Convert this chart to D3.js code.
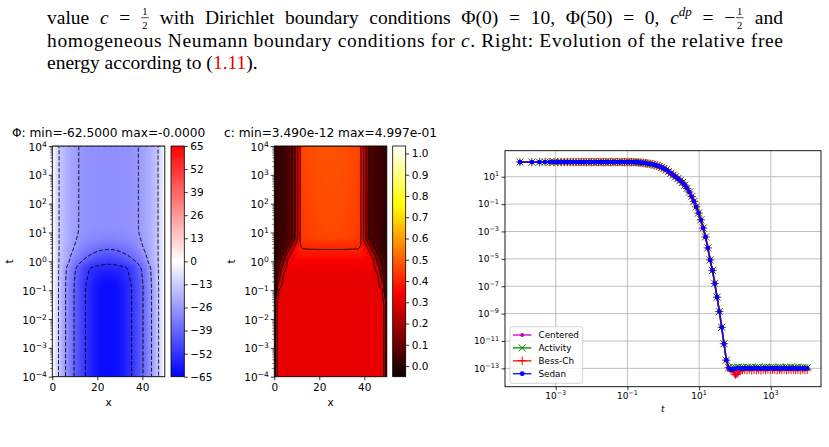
<!DOCTYPE html>
<html>
<head>
<meta charset="utf-8">
<script src="https://cdn.jsdelivr.net/npm/d3@7"></script>
<style>
  body { margin: 0; background: #fff; }
  svg { display: block; }
</style>
</head>
<body>
<script>
// ---------- potential Phi(t, x): rows = log10(t), columns = x ----------
var phiX = [0, 3, 6, 10, 12, 15, 20, 25, 30, 35, 38, 40, 44, 47, 50];
var phiLogT = [-4, -1, -0.75, -0.5, -0.25, 0, 0.25, 0.5, 0.75, 1, 1.25, 4];
var phiRows = [
  [0, -14.1, -26.4, -40, -45.6, -52.5, -60, -62.5, -60, -52.5, -45.6, -40, -26.4, -14.1, 0],
  [0, -14.1, -26.4, -40, -45.6, -52.5, -60, -62.5, -60, -52.5, -45.6, -40, -26.4, -14.1, 0],
  [0, -14.0, -26.2, -39.6, -45.1, -51.9, -59.1, -61.5, -59.1, -51.9, -45.1, -39.6, -26.2, -14.0, 0],
  [0, -13.8, -25.6, -38.8, -44, -50.5, -56.8, -59, -56.8, -50.5, -44, -38.8, -25.6, -13.8, 0],
  [0, -13.6, -25, -37.6, -42.6, -49.5, -54.2, -55.2, -54.2, -49.5, -42.6, -37.6, -25, -13.6, 0],
  [0, -13.2, -21.5, -33, -37, -42, -47.5, -49.5, -47.5, -42, -37, -33, -21.5, -13.2, 0],
  [0, -13.1, -20.8, -29, -32.5, -36.5, -41, -43, -41, -36.5, -32.5, -29, -20.8, -13.1, 0],
  [0, -13, -20, -26.5, -29.5, -32.5, -35.8, -37, -35.8, -32.5, -29.5, -26.5, -20, -13, 0],
  [0, -13, -19.7, -25.2, -27.5, -29.8, -31.3, -32, -31.3, -29.8, -27.5, -25.2, -19.7, -13, 0],
  [0, -13, -19.6, -24.6, -26.4, -28, -29.1, -29.5, -29.1, -28, -26.4, -24.6, -19.6, -13, 0],
  [0, -13, -19.5, -24.4, -26.2, -27.6, -28.3, -28.5, -28.3, -27.6, -26.2, -24.4, -19.5, -13, 0],
  [0, -13, -19.5, -24.3, -26.2, -27.5, -28.2, -28.3, -28.2, -27.5, -26.2, -24.3, -19.5, -13, 0]
];
var phiLevels = [-52, -39, -26, -13];
var phiTicks = [65, 52, 39, 26, 13, 0, -13, -26, -39, -52, -65];

// ---------- concentration c(t, x) ----------
var cX = [0, 0.5, 1, 2, 4, 6, 8, 9.2, 10.4, 11.5, 13, 25, 37, 38.5, 39.6, 40.8, 42, 44, 46, 48, 49, 49.5, 50];
var cLogT = [-4, -1.5, -1, -0.5, 0, 0.25, 0.45, 0.65, 0.85, 4];
var cRows = [
  [0, 0.2, 0.295, 0.305, 0.305, 0.305, 0.305, 0.305, 0.305, 0.305, 0.305, 0.305, 0.305, 0.305, 0.305, 0.305, 0.305, 0.305, 0.305, 0.305, 0.295, 0.2, 0],
  [0, 0.2, 0.295, 0.305, 0.305, 0.305, 0.305, 0.305, 0.305, 0.305, 0.305, 0.305, 0.305, 0.305, 0.305, 0.305, 0.305, 0.305, 0.305, 0.305, 0.295, 0.2, 0],
  [0, 0.06, 0.15, 0.302, 0.305, 0.305, 0.305, 0.305, 0.305, 0.305, 0.305, 0.305, 0.305, 0.305, 0.305, 0.305, 0.305, 0.305, 0.305, 0.302, 0.15, 0.06, 0],
  [0, 0.03, 0.065, 0.14, 0.302, 0.312, 0.315, 0.315, 0.315, 0.315, 0.315, 0.315, 0.315, 0.315, 0.315, 0.315, 0.315, 0.312, 0.302, 0.14, 0.065, 0.03, 0],
  [0, 0.015, 0.03, 0.07, 0.17, 0.31, 0.33, 0.335, 0.338, 0.34, 0.34, 0.34, 0.34, 0.34, 0.338, 0.335, 0.33, 0.31, 0.17, 0.07, 0.03, 0.015, 0],
  [0.003, 0.005, 0.008, 0.03, 0.098, 0.23, 0.33, 0.355, 0.37, 0.375, 0.38, 0.38, 0.38, 0.375, 0.37, 0.355, 0.33, 0.23, 0.098, 0.03, 0.008, 0.005, 0.003],
  [0.005, 0.007, 0.01, 0.018, 0.05, 0.13, 0.27, 0.33, 0.37, 0.39, 0.402, 0.405, 0.402, 0.39, 0.37, 0.33, 0.27, 0.13, 0.05, 0.018, 0.01, 0.007, 0.005],
  [0.008, 0.009, 0.011, 0.016, 0.035, 0.075, 0.17, 0.26, 0.34, 0.402, 0.42, 0.43, 0.42, 0.402, 0.34, 0.26, 0.17, 0.075, 0.035, 0.016, 0.011, 0.009, 0.008],
  [0.01, 0.01, 0.012, 0.016, 0.03, 0.05, 0.1, 0.2, 0.3, 0.402, 0.44, 0.46, 0.44, 0.402, 0.3, 0.2, 0.1, 0.05, 0.03, 0.016, 0.012, 0.01, 0.01],
  [0.01, 0.01, 0.012, 0.016, 0.03, 0.05, 0.1, 0.2, 0.3, 0.402, 0.46, 0.48, 0.46, 0.402, 0.3, 0.2, 0.1, 0.05, 0.03, 0.016, 0.012, 0.01, 0.01]
];
var cLevels = [0.1, 0.2, 0.3, 0.4];
var cTicks = [0, 0.1, 0.2, 0.3, 0.4, 0.5, 0.6, 0.7, 0.8, 0.9, 1.0];

// ---------- relative free energy (log10 values) ----------
var tSteps = [1.00e-4, 2.16e-4, 3.51e-4, 5.07e-4, 6.88e-4, 8.98e-4, 1.14e-3, 1.42e-3, 1.75e-3, 2.13e-3,
  2.57e-3, 3.09e-3, 3.68e-3, 4.37e-3, 5.17e-3, 6.09e-3, 7.17e-3, 8.41e-3, 9.86e-3, 1.15e-2,
  1.35e-2, 1.57e-2, 1.84e-2, 2.14e-2, 2.49e-2, 2.90e-2, 3.38e-2, 3.93e-2, 4.56e-2, 5.30e-2,
  6.16e-2, 7.16e-2, 8.31e-2, 9.65e-2, 0.112, 0.130, 0.151, 0.175, 0.203, 0.236,
  0.274, 0.318, 0.369, 0.428, 0.497, 0.576, 0.668, 0.775, 0.900, 1.04,
  1.21, 1.40, 1.63, 1.89, 2.19, 2.54, 2.95, 3.42, 3.97, 4.61,
  5.34, 6.20, 7.19, 8.34, 9.67, 11.2, 13.0, 15.1, 17.5, 20.3,
  23.6, 27.3, 31.7, 36.8, 42.7, 49.5, 57.4, 66.6, 77.3, 89.6,
  104, 121, 140, 162, 188, 218, 253, 294, 341, 395,
  459, 532, 617, 716, 831, 964, 1118, 1297, 1504, 1745,
  2024, 2348, 2723, 3159, 3665, 4251, 4931, 5720, 6635, 7697,
  8928, 10357];
// common part of all four schemes (first 78 steps)
var decayLogE = [2.07, 2.07, 2.07, 2.07, 2.07, 2.07, 2.07, 2.07, 2.07, 2.07,
  2.07, 2.07, 2.07, 2.07, 2.07, 2.07, 2.07, 2.07, 2.07, 2.07,
  2.07, 2.07, 2.07, 2.07, 2.07, 2.07, 2.07, 2.07, 2.07, 2.07,
  2.07, 2.07, 2.07, 2.07, 2.07, 2.065, 2.06, 2.05, 2.04, 2.03,
  2.01, 1.99, 1.96, 1.93, 1.9, 1.86, 1.81, 1.75, 1.68, 1.6,
  1.5, 1.38, 1.25, 1.12, 0.99, 0.86, 0.72, 0.57, 0.38, 0.15,
  -0.12, -0.45, -0.8, -1.2, -1.65, -2.15, -2.75, -3.4, -4.2, -5.08,
  -5.85, -6.8, -7.8, -8.85, -10.0, -11.2, -12.4, -12.95];
var centeredFloor = [-13.1, -13.25, -13.55, -13.4, -13.15, -13.05, -13.02, -13.04, -13.0, -13.03,
  -13.01, -13.02, -13.0, -13.03, -13.01, -13.02, -13.0, -13.01, -13.03, -13.0,
  -13.02, -13.01, -13.0, -13.03, -13.01, -13.02, -13.0, -13.01, -13.02, -13.0,
  -13.01, -13.03, -13.0, -13.02];
var activityFloor = [-12.98, -12.93, -12.95, -12.92, -12.96, -12.94, -12.97, -12.93, -12.95, -12.92,
  -12.96, -12.94, -12.93, -12.97, -12.95, -12.92, -12.94, -12.96, -12.93, -12.95,
  -12.97, -12.92, -12.94, -12.96, -12.93, -12.95, -12.92, -12.96, -12.94, -12.93,
  -12.97, -12.95, -12.94, -12.96];
var bessFloor = [-13.15, -13.25, -13.45, -13.35, -13.2, -13.12, -13.1, -13.13, -13.08, -13.14,
  -13.1, -13.12, -13.09, -13.15, -13.1, -13.13, -13.08, -13.12, -13.11, -13.09,
  -13.14, -13.1, -13.12, -13.08, -13.13, -13.1, -13.11, -13.09, -13.12, -13.1,
  -13.13, -13.08, -13.11, -13.1];
var sedanFloor = [-13.1, -13.06, -13.02, -12.98, -13.0, -13.03, -12.99, -13.01, -12.98, -13.02,
  -13.0, -12.97, -13.01, -13.03, -12.99, -13.0, -13.02, -12.98, -13.0, -13.01,
  -12.99, -13.02, -13.0, -12.98, -13.01, -13.0, -13.03, -12.99, -13.0, -13.02,
  -12.98, -13.0, -13.01, -13.0];
var seriesNames = ["Centered", "Activity", "Bess-Ch", "Sedan"];
var seriesFloors = [centeredFloor, activityFloor, bessFloor, sedanFloor];
var energyXTicks = [1e-3, 1e-1, 1e1, 1e3];
var energyYTicks = [1e1, 1e-1, 1e-3, 1e-5, 1e-7, 1e-9, 1e-11, 1e-13];

// ---------- layout ----------
var svg = d3.select("body").append("svg")
  .attr("width", 829).attr("height", 447)
  .style("font-family", "'DejaVu Sans', sans-serif");
var defs = svg.append("defs");

var plotTop = 146, plotBottom = 376.7, plotW = 112.5;
var tScale = d3.scaleLog().domain([1e-4, 1e4]).range([plotBottom, plotTop]);

function powLabel(sel, x, y, exp, size, anchor, raise) {
  var t = sel.append("text").attr("x", x).attr("y", y)
    .attr("text-anchor", anchor).style("font-size", size + "px").attr("fill", "#000");
  t.append("tspan").text("10");
  t.append("tspan").attr("dy", -size * (raise || 0.42)).style("font-size", (size * 0.72) + "px")
    .text(exp < 0 ? "\u2212" + (-exp) : String(exp));
  return t;
}

// monotone cubic interpolation (smooth shading between the read-off rows)
function monotone(xs, ys) {
  var n = xs.length, h = [], s = [], m = new Array(n), i;
  for (i = 0; i < n - 1; i++) { h[i] = xs[i + 1] - xs[i]; s[i] = (ys[i + 1] - ys[i]) / h[i]; }
  m[0] = s[0]; m[n - 1] = s[n - 2];
  for (i = 1; i < n - 1; i++) {
    var p = (s[i - 1] * h[i] + s[i] * h[i - 1]) / (h[i - 1] + h[i]);
    m[i] = (Math.sign(s[i - 1]) + Math.sign(s[i])) *
      Math.min(Math.abs(s[i - 1]), Math.abs(s[i]), 0.5 * Math.abs(p));
  }
  return function(x) {
    var k = Math.max(0, Math.min(n - 2, d3.bisectRight(xs, x) - 1));
    var t = (x - xs[k]) / h[k], t2 = t * t, t3 = t2 * t;
    return (2 * t3 - 3 * t2 + 1) * ys[k] + (t3 - 2 * t2 + t) * h[k] * m[k] +
      (-2 * t3 + 3 * t2) * ys[k + 1] + (t3 - t2) * h[k] * m[k + 1];
  };
}

// ---------- caption text ----------
var cap = svg.append("g").style("font-family", "'Liberation Serif', serif")
  .style("font-size", "19.5px").attr("fill", "#000");

function fracInto(g, x, y) {
  g.append("text").attr("x", x).attr("y", y - 9).attr("text-anchor", "middle")
    .style("font-size", "10.5px").text("1");
  g.append("line").attr("x1", x - 3.8).attr("x2", x + 3.8).attr("y1", y - 6.3).attr("y2", y - 6.3)
    .attr("stroke", "#000").attr("stroke-width", 0.7);
  g.append("text").attr("x", x).attr("y", y + 5).attr("text-anchor", "middle")
    .style("font-size", "10.5px").text("2");
}
var l1y = 24;
function plain(s, italic) {
  return function(g) {
    return g.append("text").attr("y", l1y).style("font-style", italic ? "italic" : null)
      .text(s).node().getComputedTextLength();
  };
}
var line1 = [
  plain("value"), plain("c", true), plain("="),
  function(g) { fracInto(g, 4, l1y); return 8; },
  plain("with"), plain("Dirichlet"), plain("boundary"), plain("conditions"),
  plain("\u03A6(0)"), plain("="), plain("10,"), plain("\u03A6(50)"), plain("="), plain("0,"),
  function(g) {
    var t = g.append("text").attr("y", l1y).style("font-style", "italic").text("c");
    t.append("tspan").attr("dy", -8).style("font-size", "13px").text("dp");
    return t.node().getComputedTextLength();
  },
  plain("="),
  function(g) {
    var w = g.append("text").attr("y", l1y).text("\u2212").node().getComputedTextLength();
    fracInto(g, w + 4.5, l1y);
    return w + 9;
  },
  plain("and")
];
(function justify() {
  var items = line1.map(function(build) { var g = cap.append("g"); return { g: g, w: build(g) }; });
  var total = d3.sum(items, function(d) { return d.w; });
  var gap = (736 - total) / (items.length - 1);
  var x = 47;
  items.forEach(function(d) { d.g.attr("transform", "translate(" + x + ",0)"); x += d.w + gap; });
})();

var l2 = cap.append("text").attr("x", 47).attr("y", 46.7)
  .attr("textLength", 736).attr("lengthAdjust", "spacing");
l2.append("tspan").text("homogeneous Neumann boundary conditions for ");
l2.append("tspan").style("font-style", "italic").text("c");
l2.append("tspan").text(". Right: Evolution of the relative free");

var l3 = cap.append("text").attr("x", 47).attr("y", 69.3);
l3.append("tspan").text("energy according to (");
l3.append("tspan").attr("fill", "#e00").text("1.11");
l3.append("tspan").text(").");

// ---------- field panels ----------
function fieldPanel(p) {
  var g = svg.append("g");
  var x = d3.scaleLinear().domain([0, 50]).range([p.left, p.left + plotW]);
  var nx = 113, ny = 231;
  var rowFns = p.rows.map(function(r) { return monotone(p.xs, r); });
  var values = new Float64Array(nx * ny);
  for (var i = 0; i < nx; i++) {
    var xv = x.invert(p.left + (i + 0.5) * plotW / nx);
    var col = monotone(p.logT, rowFns.map(function(f) { return f(xv); }));
    for (var j = 0; j < ny; j++) {
      var lt = Math.log10(tScale.invert(plotTop + (j + 0.5) * (plotBottom - plotTop) / ny));
      values[j * nx + i] = col(lt);
    }
  }
  var canvas = document.createElement("canvas");
  canvas.width = nx; canvas.height = ny;
  var ctx = canvas.getContext("2d");
  var img = ctx.createImageData(nx, ny);
  for (var k = 0; k < nx * ny; k++) {
    var c = d3.rgb(p.color(values[k]));
    img.data[4 * k] = c.r; img.data[4 * k + 1] = c.g; img.data[4 * k + 2] = c.b; img.data[4 * k + 3] = 255;
  }
  ctx.putImageData(img, 0, 0);
  g.append("image").attr("href", canvas.toDataURL())
    .attr("x", p.left).attr("y", plotTop).attr("width", plotW).attr("height", plotBottom - plotTop)
    .attr("preserveAspectRatio", "none");

  // contour lines
  var sx = plotW / nx, sy = (plotBottom - plotTop) / ny;
  var proj = d3.geoTransform({ point: function(a, b) { this.stream.point(p.left + a * sx, plotTop + b * sy); } });
  var path = d3.geoPath(proj);
  defs.append("clipPath").attr("id", p.id + "-clip").append("rect")
    .attr("x", p.left + 0.8).attr("y", plotTop + 0.8)
    .attr("width", plotW - 1.6).attr("height", plotBottom - plotTop - 1.6);
  g.append("g").attr("clip-path", "url(#" + p.id + "-clip)")
    .selectAll("path")
    .data(d3.contours().size([nx, ny]).thresholds(p.levels)(values))
    .join("path")
    .attr("d", path)
    .attr("fill", "none").attr("stroke", "#000").attr("stroke-width", 1)
    .attr("stroke-dasharray", p.dash);

  // frame
  g.append("rect").attr("x", p.left).attr("y", plotTop).attr("width", plotW)
    .attr("height", plotBottom - plotTop).attr("fill", "none").attr("stroke", "#000").attr("stroke-width", 0.9);

  // y axis (log t)
  var decades = d3.range(-4, 5).map(function(e) { return Math.pow(10, e); });
  var minor = d3.range(-4, 4).flatMap(function(e) {
    return d3.range(2, 10).map(function(m) { return m * Math.pow(10, e); });
  });
  g.append("g").attr("transform", "translate(" + p.left + ",0)")
    .call(d3.axisLeft(tScale).tickValues(decades).tickSize(3.5).tickFormat(""))
    .call(function(s) { s.select(".domain").remove(); s.selectAll("line").attr("stroke-width", 0.8); });
  g.append("g").attr("transform", "translate(" + p.left + ",0)")
    .call(d3.axisLeft(tScale).tickValues(minor).tickSize(2).tickFormat(""))
    .call(function(s) { s.select(".domain").remove(); s.selectAll("line").attr("stroke-width", 0.6); });
  decades.forEach(function(v) {
    powLabel(g, p.left - 5.5, tScale(v) + 4.5, Math.round(Math.log10(v)), 10.5, "end", 0.38);
  });
  g.append("text").attr("transform", "translate(" + p.ylabX + "," + (plotTop + plotBottom) / 2 + ") rotate(-90)")
    .attr("text-anchor", "middle").style("font-size", "10.5px").text("t");

  // x axis
  g.append("g").attr("transform", "translate(0," + plotBottom + ")")
    .call(d3.axisBottom(x).tickValues([0, 20, 40]).tickSize(3.5).tickPadding(3.5))
    .call(function(s) {
      s.select(".domain").remove();
      s.attr("font-family", "DejaVu Sans").attr("font-size", 10.5);
      s.selectAll("line").attr("stroke-width", 0.8);
    });
  g.append("text").attr("x", p.left + plotW / 2).attr("y", 406)
    .attr("text-anchor", "middle").style("font-size", "10.5px").text("x");

  // title
  g.append("text").attr("x", p.left + plotW / 2).attr("y", 137)
    .attr("text-anchor", "middle").style("font-size", "12.2px").text(p.title);

  // colorbar
  var cb = d3.scaleLinear().domain(p.cbDomain).range([plotBottom, plotTop]);
  var grad = defs.append("linearGradient").attr("id", p.id + "-grad")
    .attr("x1", 0).attr("y1", 1).attr("x2", 0).attr("y2", 0);
  d3.range(0, 1.0001, 0.02).forEach(function(o) {
    grad.append("stop").attr("offset", o)
      .attr("stop-color", p.color(p.cbDomain[0] + o * (p.cbDomain[1] - p.cbDomain[0])));
  });
  g.append("rect").attr("x", p.cbLeft).attr("y", plotTop).attr("width", p.cbW)
    .attr("height", plotBottom - plotTop).attr("fill", "url(#" + p.id + "-grad)")
    .attr("stroke", "#000").attr("stroke-width", 0.8);
  g.append("g").attr("transform", "translate(" + (p.cbLeft + p.cbW) + ",0)")
    .call(d3.axisRight(cb).tickValues(p.cbTicks).tickSize(3.5).tickPadding(2.5).tickFormat(p.cbFormat))
    .call(function(s) {
      s.select(".domain").remove();
      s.attr("font-family", "DejaVu Sans").attr("font-size", 10.5);
      s.selectAll("line").attr("stroke-width", 0.8);
    });
}

var bwr = d3.scaleLinear().domain([-65, 0, 65]).range(["#0000ff", "#ffffff", "#ff0000"]).clamp(true);
var cMin = -0.05, cMax = 1.035, cR = cMax - cMin;
var hot = d3.scaleLinear()
  .domain([cMin, cMin + 0.365079 * cR, cMin + 0.746032 * cR, cMax])
  .range(["rgb(11,0,0)", "#ff0000", "#ffff00", "#ffffff"]).clamp(true);

fieldPanel({
  id: "phi", left: 52.3, ylabX: 12.5, xs: phiX, logT: phiLogT, rows: phiRows,
  color: bwr, levels: phiLevels, dash: "4,2",
  title: "\u03A6: min=-62.5000 max=-0.0000",
  cbLeft: 171, cbW: 13.3, cbDomain: [-65, 65], cbTicks: phiTicks, cbFormat: d3.format("d")
});
fieldPanel({
  id: "conc", left: 274.3, ylabX: 234.5, xs: cX, logT: cLogT, rows: cRows,
  color: hot, levels: cLevels, dash: null,
  title: "c: min=3.490e-12 max=4.997e-01",
  cbLeft: 392.7, cbW: 13, cbDomain: [cMin, cMax], cbTicks: cTicks, cbFormat: d3.format(".1f")
});

// ---------- free energy panel ----------
var eLeft = 505, eRight = 821, eTop = 150.7, eBottom = 386.7;
var tX = d3.scaleLog().domain([Math.pow(10, -4.415), Math.pow(10, 4.40)]).range([eLeft, eRight]);
var eY = d3.scaleLog().domain([Math.pow(10, -14.34), Math.pow(10, 2.9)]).range([eBottom, eTop]);
var eg = svg.append("g");

eg.selectAll(".gx").data(energyXTicks).join("line")
  .attr("x1", function(d) { return tX(d); }).attr("x2", function(d) { return tX(d); })
  .attr("y1", eTop).attr("y2", eBottom).attr("stroke", "#b0b0b0").attr("stroke-width", 0.8);
eg.selectAll(".gy").data(energyYTicks).join("line")
  .attr("y1", function(d) { return eY(d); }).attr("y2", function(d) { return eY(d); })
  .attr("x1", eLeft).attr("x2", eRight).attr("stroke", "#b0b0b0").attr("stroke-width", 0.8);

var styles = [
  { color: "#bf00bf", marker: "dot", r: 1.9 },
  { color: "#008000", marker: "x", r: 3.6 },
  { color: "#ff0000", marker: "plus", r: 4.2 },
  { color: "#0000ff", marker: "dot", r: 2.4 }
];
function drawMarker(sel, st) {
  if (st.marker === "dot") {
    sel.append("circle").attr("r", st.r).attr("fill", st.color);
  } else if (st.marker === "x") {
    sel.append("path").attr("d", "M" + (-st.r) + "," + (-st.r) + "L" + st.r + "," + st.r + "M" + (-st.r) + "," + st.r + "L" + st.r + "," + (-st.r))
      .attr("stroke", st.color).attr("stroke-width", 1).attr("fill", "none");
  } else {
    sel.append("path").attr("d", "M" + (-st.r) + ",0H" + st.r + "M0," + (-st.r) + "V" + st.r)
      .attr("stroke", st.color).attr("stroke-width", 1).attr("fill", "none");
  }
}
var line = d3.line().x(function(d) { return tX(d[0]); }).y(function(d) { return eY(d[1]); });
seriesFloors.forEach(function(floor, si) {
  var st = styles[si];
  var pts = d3.zip(tSteps, decayLogE.concat(floor)).map(function(d) { return [d[0], Math.pow(10, d[1])]; });
  var sg = eg.append("g");
  sg.append("path").attr("d", line(pts)).attr("fill", "none")
    .attr("stroke", st.color).attr("stroke-width", 1.5).attr("stroke-opacity", 0.85);
  sg.selectAll("g").data(pts).join("g")
    .attr("transform", function(d) { return "translate(" + tX(d[0]) + "," + eY(d[1]) + ")"; })
    .each(function() { drawMarker(d3.select(this), st); });
});

// frame + ticks
eg.append("rect").attr("x", eLeft).attr("y", eTop).attr("width", eRight - eLeft).attr("height", eBottom - eTop)
  .attr("fill", "none").attr("stroke", "#000").attr("stroke-width", 0.9);
eg.append("g").attr("transform", "translate(0," + eBottom + ")")
  .call(d3.axisBottom(tX).tickValues(energyXTicks).tickSize(3.5).tickFormat(""))
  .call(function(s) { s.select(".domain").remove(); s.selectAll("line").attr("stroke-width", 0.8); });
eg.append("g").attr("transform", "translate(" + eLeft + ",0)")
  .call(d3.axisLeft(eY).tickValues(energyYTicks).tickSize(3.5).tickFormat(""))
  .call(function(s) { s.select(".domain").remove(); s.selectAll("line").attr("stroke-width", 0.8); });
energyXTicks.forEach(function(v) {
  powLabel(eg, tX(v), 399, Math.round(Math.log10(v)), 9, "middle");
});
energyYTicks.forEach(function(v) {
  powLabel(eg, eLeft - 6, eY(v) + 3.4, Math.round(Math.log10(v)), 9, "end");
});
eg.append("text").attr("x", (eLeft + eRight) / 2).attr("y", 412).attr("text-anchor", "middle")
  .style("font-size", "9.5px").style("font-style", "italic").style("font-family", "'DejaVu Serif', serif").text("t");

// legend
var lg = eg.append("g");
lg.append("rect").attr("x", 510).attr("y", 326.7).attr("width", 72.7).attr("height", 56.6).attr("rx", 2)
  .attr("fill", "#fff").attr("fill-opacity", 0.8).attr("stroke", "#ccc").attr("stroke-width", 0.8);
seriesNames.forEach(function(name, i) {
  var y = 335 + i * 12.9, st = styles[i];
  lg.append("line").attr("x1", 513).attr("x2", 531.5).attr("y1", y).attr("y2", y)
    .attr("stroke", st.color).attr("stroke-width", 1.5).attr("stroke-opacity", 0.85);
  drawMarker(lg.append("g").attr("transform", "translate(522.2," + y + ")"), st);
  lg.append("text").attr("x", 538.5).attr("y", y + 3).style("font-size", "8.8px").text(name);
});
</script>
</body>
</html>
